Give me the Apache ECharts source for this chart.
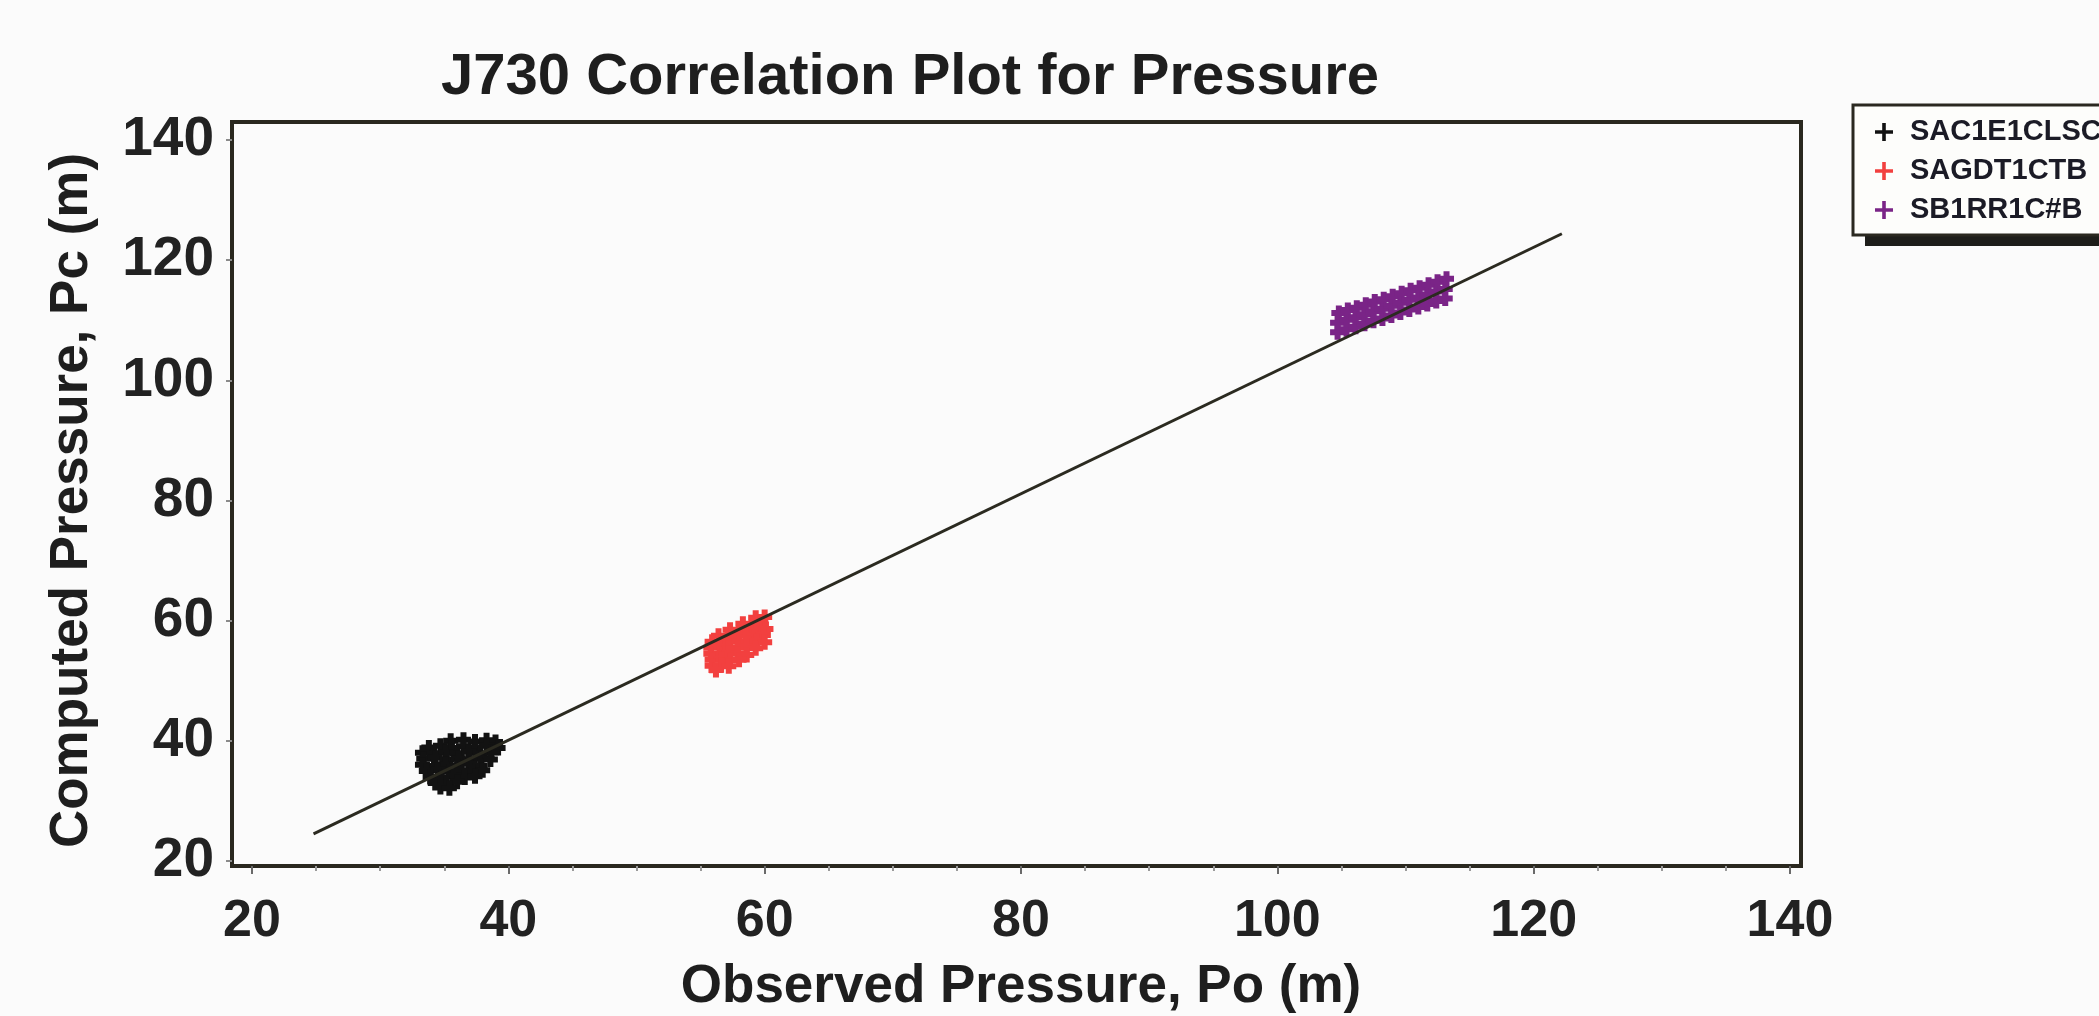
<!DOCTYPE html>
<html>
<head>
<meta charset="utf-8">
<script src="https://cdn.jsdelivr.net/npm/echarts@6/dist/echarts.min.js"></script>
<style>
  html, body { margin: 0; padding: 0; background: #fbfbfb; }
  #chart { width: 2099px; height: 1016px; }
</style>
</head>
<body>
<div id="chart"></div>
<script>
// Observed (Po) vs computed (Pc) pressure at junction J730, in metres
const titleText = 'J730 Correlation Plot for Pressure';
const xName = 'Observed Pressure, Po (m)';
const yName = 'Computed Pressure, Pc (m)';
const axisTicks = [20, 40, 60, 80, 100, 120, 140];

const seriesNames = ['SAC1E1CLSC', 'SAGDT1CTB', 'SB1RR1C#B'];
const seriesColors = ['#121212', '#f2403f', '#7a2487'];

// [Po, Pc] pairs
const pointsA = [
  [35.5, 40.0], [36.5, 40.2], [37.4, 39.9], [38.3, 40.1], [39.0, 39.8],
  [33.8, 38.9], [34.7, 39.2], [35.6, 38.8], [36.5, 39.1], [37.4, 38.9], [38.3, 39.2], [39.2, 38.8],
  [33.3, 38.0], [34.2, 37.8], [35.1, 38.1], [36.0, 37.9], [36.9, 38.2], [37.8, 37.9], [38.7, 38.1],
  [33.4, 37.0], [34.3, 37.2], [35.2, 36.9], [36.1, 37.1], [37.0, 36.8], [37.9, 37.1], [38.6, 36.9],
  [33.3, 36.0], [34.2, 35.8], [35.1, 36.1], [36.0, 35.9], [36.9, 36.2], [37.8, 35.8],
  [33.6, 35.0], [34.5, 35.2], [35.4, 34.9], [36.3, 35.1], [37.2, 34.8], [38.0, 35.1],
  [33.9, 34.0], [34.8, 33.9], [35.7, 34.2], [36.6, 33.9], [37.4, 34.1],
  [34.3, 33.0], [35.2, 32.9], [36.0, 33.2],
  [34.7, 32.3], [35.4, 32.1]
];
const pointsB = [
  [59.3, 60.5], [60.0, 60.6],
  [58.3, 59.5], [59.0, 59.4], [59.7, 59.6],
  [57.3, 58.5], [58.0, 58.4], [58.7, 58.6], [59.4, 58.4], [60.1, 58.6],
  [56.4, 57.5], [57.1, 57.4], [57.8, 57.6], [58.5, 57.5], [59.2, 57.3], [59.9, 57.6],
  [55.9, 56.5], [56.6, 56.4], [57.3, 56.6], [58.0, 56.5], [58.7, 56.3], [59.4, 56.6], [60.0, 56.4],
  [55.8, 55.5], [56.5, 55.6], [57.2, 55.4], [57.9, 55.5], [58.6, 55.7], [59.3, 55.4],
  [55.8, 54.5], [56.5, 54.4], [57.2, 54.6], [57.9, 54.5], [58.6, 54.3],
  [55.9, 53.5], [56.6, 53.6], [57.3, 53.4], [58.0, 53.5],
  [55.9, 52.5], [56.6, 52.6], [57.2, 52.4],
  [56.2, 51.8]
];
const pointsC = [
  [104.7, 108.0], [104.7, 109.6], [104.8, 111.2],
  [105.4, 108.5], [105.4, 110.1], [105.5, 111.7],
  [106.1, 108.9], [106.1, 110.5], [106.2, 112.1],
  [106.8, 109.4], [106.8, 111.0], [106.9, 112.6],
  [107.5, 109.9], [107.5, 111.5], [107.6, 113.1],
  [108.2, 110.3], [108.2, 111.9], [108.3, 113.5],
  [108.9, 110.8], [108.9, 112.4], [109.0, 114.0],
  [109.6, 111.3], [109.6, 112.9], [109.7, 114.5],
  [110.3, 111.8], [110.3, 113.4], [110.4, 115.0],
  [111.0, 112.2], [111.0, 113.8], [111.1, 115.4],
  [111.7, 112.7], [111.7, 114.3], [111.8, 115.9],
  [112.4, 113.2], [112.4, 114.8], [112.5, 116.4],
  [113.1, 113.6], [113.1, 115.2], [113.2, 116.9]
];
// fitted correlation line
const fitLine = [[24.8, 24.5], [122.2, 124.4]];

const FONT = '"Liberation Sans", Arial, sans-serif';
const plusMark = 'path://M3,0H7V3H10V7H7V10H3V7H0V3H3Z';
const plusIcon = 'path://M4,0H6V4H10V6H6V10H4V6H0V4H4Z';

const chart = echarts.init(document.getElementById('chart'), null, { renderer: 'canvas' });

const scatter = (name, data, color) => ({
  name: name,
  type: 'scatter',
  xAxisIndex: 0,
  yAxisIndex: 0,
  data: data,
  symbol: plusMark,
  symbolSize: 15,
  itemStyle: { color: color, opacity: 1 },
  z: 2
});

chart.setOption({
  animation: false,
  backgroundColor: '#fbfbfb',
  textStyle: { fontFamily: FONT },
  graphic: [
    {
      type: 'text',
      x: 910,
      y: 78,
      style: {
        text: titleText,
        font: 'bold 58px ' + FONT,
        fill: '#1e1e1e',
        align: 'center',
        verticalAlign: 'middle'
      }
    },
    // legend frame with its drop shadow
    {
      type: 'rect',
      shape: { x: 1865, y: 116, width: 260, height: 130 },
      style: { fill: '#1d1d1a' },
      z: 0
    },
    {
      type: 'rect',
      shape: { x: 1853, y: 105, width: 260, height: 130 },
      style: { fill: '#fdfdfb', stroke: '#2a2820', lineWidth: 3 },
      z: 1
    }
  ],
  legend: {
    data: seriesNames.map((n, i) => ({ name: n, icon: plusIcon, itemStyle: { color: seriesColors[i] } })),
    orient: 'vertical',
    left: 1853,
    top: 105,
    padding: [12, 0, 10, 22],
    itemGap: 9,
    itemWidth: 18,
    itemHeight: 20,
    z: 5,
    textStyle: {
      fontFamily: FONT,
      fontSize: 29,
      fontWeight: 'bold',
      color: '#1b1b26',
      lineHeight: 30,
      padding: [0, 0, 0, 12]
    }
  },
  grid: [
    { left: 252, right: 309, top: 140, bottom: 155, containLabel: false, outerBoundsMode: 'none' },
    {
      left: 232, right: 298, top: 122, bottom: 150, containLabel: false, outerBoundsMode: 'none',
      show: true, borderColor: '#2a281f', borderWidth: 4, backgroundColor: 'rgba(0,0,0,0)'
    }
  ],
  xAxis: [
    {
      gridIndex: 0,
      type: 'value',
      min: axisTicks[0],
      max: axisTicks[axisTicks.length - 1],
      interval: 20,
      offset: 5,
      axisLine: { show: false },
      axisTick: { show: true, inside: false, length: 8, lineStyle: { color: '#6a6a6a', width: 2 } },
      minorTick: { show: true, splitNumber: 4, length: 5, lineStyle: { color: '#9a9a9a', width: 2 } },
      splitLine: { show: false },
      axisLabel: { fontSize: 52, fontWeight: 'bold', color: '#222', margin: 30, fontFamily: FONT },
      name: xName,
      nameLocation: 'middle',
      nameGap: 95,
      nameTextStyle: { fontSize: 53, fontWeight: 'bold', color: '#1e1e1e', fontFamily: FONT }
    },
    { gridIndex: 1, type: 'value', min: 0, max: 1, show: false }
  ],
  yAxis: [
    {
      gridIndex: 0,
      type: 'value',
      min: axisTicks[0],
      max: axisTicks[axisTicks.length - 1],
      interval: 20,
      offset: 20,
      axisLine: { show: false },
      axisTick: { show: true, inside: false, length: 6, lineStyle: { color: '#8a8a8a', width: 2 } },
      splitLine: { show: false },
      axisLabel: { fontSize: 55, fontWeight: 'bold', color: '#222', margin: 18, fontFamily: FONT },
      name: yName,
      nameLocation: 'middle',
      nameGap: 133,
      nameTextStyle: { fontSize: 53, fontWeight: 'bold', color: '#1e1e1e', fontFamily: FONT }
    },
    { gridIndex: 1, type: 'value', min: 0, max: 1, show: false }
  ],
  series: [
    scatter(seriesNames[0], pointsA, seriesColors[0]),
    scatter(seriesNames[1], pointsB, seriesColors[1]),
    scatter(seriesNames[2], pointsC, seriesColors[2]),
    {
      name: 'fit',
      type: 'line',
      xAxisIndex: 0,
      yAxisIndex: 0,
      data: fitLine,
      symbol: 'none',
      lineStyle: { color: '#2b2a20', width: 3 },
      z: 3
    }
  ]
});
</script>
</body>
</html>
